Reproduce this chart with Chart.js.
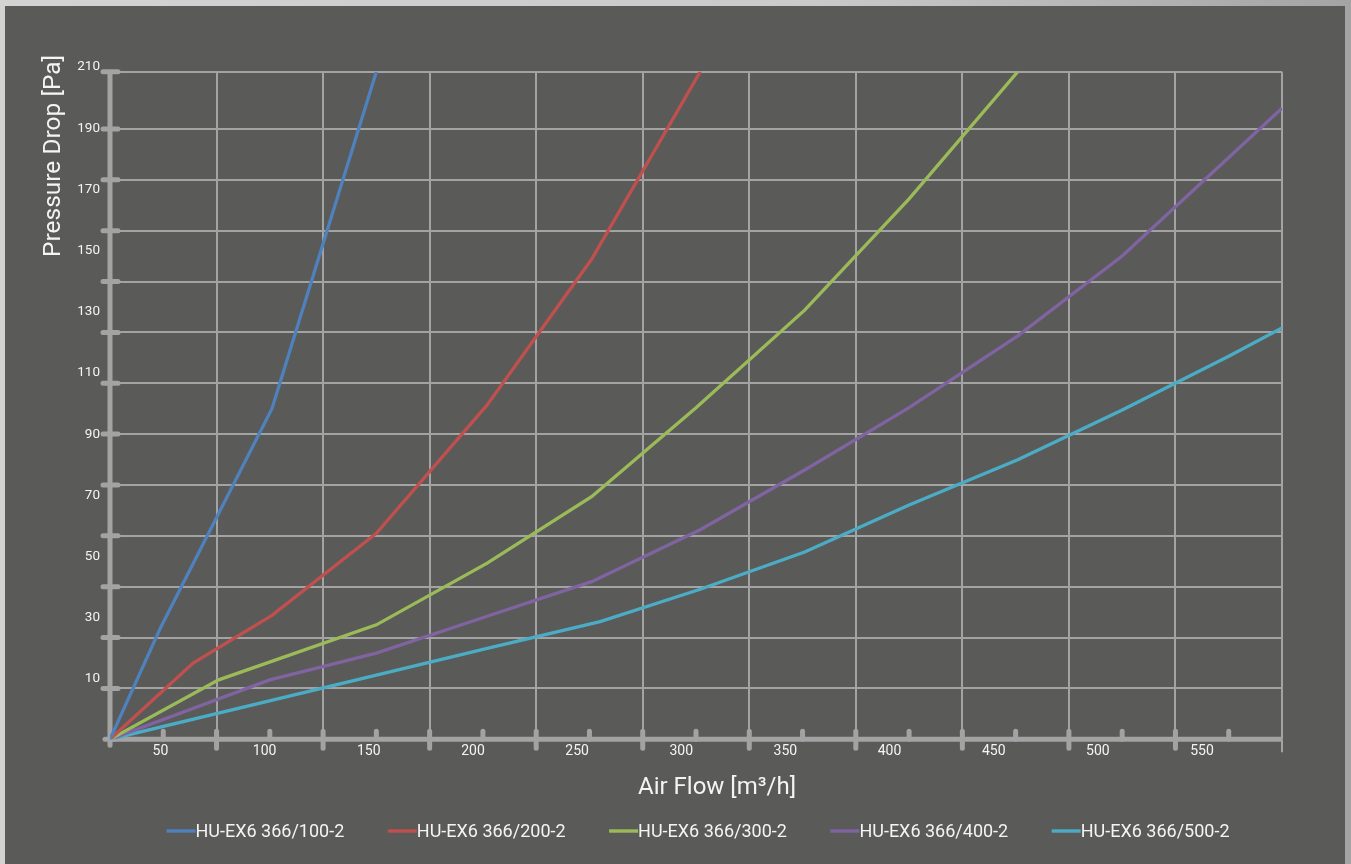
<!DOCTYPE html>
<html>
<head>
<meta charset="utf-8">
<title>Pressure Drop vs Air Flow</title>
<script src="https://cdn.jsdelivr.net/npm/chart.js@4.4.1/dist/chart.umd.min.js"></script>
<style>
  html, body { margin: 0; padding: 0; width: 1351px; height: 864px; overflow: hidden; }
  body { position: relative; background: linear-gradient(to right, #d3d3d3 0%, #cacaca 60%, #a4a4a4 100%); }
  #panel { position: absolute; left: 5px; top: 6px; width: 1340px; height: 858px; background: #5a5a59; }
  #wrap { position: absolute; left: 0; top: 0; width: 1351px; height: 864px; }
</style>
</head>
<body>
<div id="panel"></div>
<div id="wrap"><canvas id="chart" width="1351" height="864"></canvas></div>
<script>
// Series names
const seriesNames = ['HU-EX6 366/100-2', 'HU-EX6 366/200-2', 'HU-EX6 366/300-2', 'HU-EX6 366/400-2', 'HU-EX6 366/500-2'];

// Air flow [m³/h] and pressure drop [Pa] per unit
const flow100 = [25, 49, 101, 150];
const drop100 = [0, 35.5, 104, 210];

const flow200 = [25, 64, 101, 150, 202, 251, 302];
const drop200 = [0, 24, 39, 64.8, 105.2, 151, 210];

const flow300 = [25, 76, 150, 202, 251, 300, 351, 400, 451];
const drop300 = [0, 18.7, 36, 55.4, 76.3, 104.3, 135, 170, 210];

const flow400 = [25, 100, 150, 202, 251, 302, 351, 400, 451, 500, 550, 575];
const drop400 = [0, 18.7, 27.1, 38.7, 49.6, 65.9, 84.7, 104.3, 126.9, 152, 183, 198.5];

const flow500 = [25, 150, 202, 255, 302, 351, 400, 451, 500, 550, 575];
const drop500 = [0, 20.2, 28.6, 37, 47.2, 58.9, 73.7, 87.9, 103.6, 120.5, 129.4];

// Axis tick labels
const xTickLabels = [50, 100, 150, 200, 250, 300, 350, 400, 450, 500, 550];
const yTickLabels = [10, 30, 50, 70, 90, 110, 130, 150, 170, 190, 210];

// Grid line values
const xGridValues = [25, 75, 125, 175, 225, 275, 325, 375, 425, 475, 525, 575];
const yGridValues = [0, 16, 32, 48, 64, 80, 96, 112, 128, 144, 160, 176, 192, 210];

const seriesColors = ['#4f81bd', '#c0504d', '#9bbb59', '#8064a2', '#4bacc6'];
const GRID = '#a3a3a3';
const TEXT = '#f4f4f4';
const FONT = 'Roboto, "Open Sans", sans-serif';

const flows = [flow100, flow200, flow300, flow400, flow500];
const drops = [drop100, drop200, drop300, drop400, drop500];

const datasets = seriesNames.map((name, i) => ({
  label: name,
  data: flows[i].map((f, k) => ({ x: f, y: drops[i][k] })),
  borderColor: seriesColors[i],
  backgroundColor: seriesColors[i],
  borderWidth: 3.3,
  pointRadius: 0,
  pointHoverRadius: 0,
  tension: 0,
  fill: false
}));

// Thick axis lines, rounded tick pills and minor ticks
const axisDecor = {
  id: 'axisDecor',
  beforeDatasetsDraw(chart) {
    const { ctx, chartArea: a, scales } = chart;
    const x = scales.x, y = scales.y;
    const seg = (x1, y1, x2, y2) => { ctx.beginPath(); ctx.moveTo(x1, y1); ctx.lineTo(x2, y2); ctx.stroke(); };
    ctx.save();
    ctx.strokeStyle = GRID;

    // main axis lines
    ctx.lineCap = 'butt';
    ctx.lineWidth = 5;
    seg(a.left, a.top, a.left, a.bottom + 2);
    seg(a.left, a.bottom, a.right, a.bottom);

    ctx.lineCap = 'round';
    ctx.lineWidth = 5;
    // pills on the vertical axis
    yGridValues.slice(1).forEach(v => {
      const py = y.getPixelForValue(v);
      seg(a.left - 7, py, a.left + 8, py);
    });
    // origin marks
    seg(a.left - 5, a.bottom, a.left + 4, a.bottom);
    seg(a.left, a.bottom, a.left, a.bottom + 6);
    // pills on the horizontal axis
    xGridValues.slice(1, -1).forEach(v => {
      const px = x.getPixelForValue(v);
      seg(px, a.bottom - 8, px, a.bottom + 9);
    });
    // minor ticks
    xTickLabels.forEach(v => {
      const px = x.getPixelForValue(v);
      seg(px, a.bottom - 8, px, a.bottom);
    });
    // right end
    ctx.lineCap = 'butt';
    ctx.lineWidth = 2;
    seg(a.right, a.bottom, a.right, a.bottom + 13);
    ctx.restore();
  }
};

// Axis titles
const axisTitles = {
  id: 'axisTitles',
  afterDraw(chart, args, opts) {
    const ctx = chart.ctx;
    ctx.save();
    ctx.fillStyle = TEXT;
    ctx.textAlign = 'center';
    ctx.textBaseline = 'middle';
    ctx.font = `24px ${FONT}`;
    ctx.fillText(opts.xTitle, 717, 788);
    ctx.translate(54, 156);
    ctx.rotate(-Math.PI / 2);
    ctx.font = `24.5px ${FONT}`;
    ctx.fillText(opts.yTitle, 0, 0);
    ctx.restore();
  }
};

// Legend with line samples directly before the text
const lineLegend = {
  id: 'lineLegend',
  afterDraw(chart, args, opts) {
    const ctx = chart.ctx;
    ctx.save();
    ctx.font = `${opts.size}px ${FONT}`;
    const items = chart.data.datasets.map(ds => ({ ds, w: ctx.measureText(ds.label).width }));
    const total = items.reduce((s, it) => s + opts.sample + it.w, 0) + opts.gap * (items.length - 1);
    let cx = opts.centerX - total / 2;
    items.forEach(it => {
      ctx.strokeStyle = it.ds.borderColor;
      ctx.lineWidth = 3.4;
      ctx.beginPath();
      ctx.moveTo(cx, opts.y);
      ctx.lineTo(cx + opts.sample, opts.y);
      ctx.stroke();
      ctx.fillStyle = TEXT;
      ctx.textAlign = 'left';
      ctx.textBaseline = 'middle';
      ctx.fillText(it.ds.label, cx + opts.sample, opts.y + 1);
      cx += opts.sample + it.w + opts.gap;
    });
    ctx.restore();
  }
};

new Chart(document.getElementById('chart'), {
  type: 'line',
  data: { datasets },
  plugins: [axisDecor, axisTitles, lineLegend],
  options: {
    responsive: false,
    devicePixelRatio: 1,
    animation: false,
    events: [],
    layout: { padding: { left: 50, right: 69, top: 71.7, bottom: 94.7 } },
    plugins: {
      legend: { display: false },
      tooltip: { enabled: false },
      title: { display: false },
      axisTitles: { xTitle: 'Air Flow [m³/h]', yTitle: 'Pressure Drop [Pa]' },
      lineLegend: { size: 18, sample: 29, gap: 43.5, centerX: 698, y: 831 }
    },
    scales: {
      x: {
        type: 'linear', position: 'bottom', weight: 0,
        min: 25, max: 575,
        border: { display: false },
        grid: { color: GRID, lineWidth: 2, drawTicks: false },
        ticks: { display: false },
        afterBuildTicks: s => { s.ticks = xGridValues.map(v => ({ value: v })); },
        afterFit: s => { s.height = 0; }
      },
      xl: {
        type: 'linear', position: 'bottom', weight: 1,
        min: 25.76, max: 588.4,
        border: { display: false },
        grid: { display: false, drawTicks: false },
        ticks: { color: TEXT, font: { family: FONT, size: 14 }, padding: 4, maxRotation: 0, autoSkip: false },
        afterBuildTicks: s => { s.ticks = xTickLabels.map(v => ({ value: v })); },
        afterFit: s => { s.height = 30; }
      },
      y: {
        type: 'linear', position: 'left', weight: 0,
        min: 0, max: 210,
        border: { display: false },
        grid: { color: GRID, lineWidth: 2, drawTicks: false },
        ticks: { display: false },
        afterBuildTicks: s => { s.ticks = yGridValues.map(v => ({ value: v })); },
        afterFit: s => { s.width = 0; }
      },
      yl: {
        type: 'linear', position: 'left', weight: 1,
        min: -8.17, max: 210,
        border: { display: false },
        grid: { display: false, drawTicks: false },
        ticks: { color: TEXT, font: { family: FONT, size: 13.5 }, padding: 10, labelOffset: -4.7, autoSkip: false },
        afterBuildTicks: s => { s.ticks = yTickLabels.map(v => ({ value: v })); },
        afterFit: s => { s.width = 60; }
      }
    }
  }
});
</script>
</body>
</html>
